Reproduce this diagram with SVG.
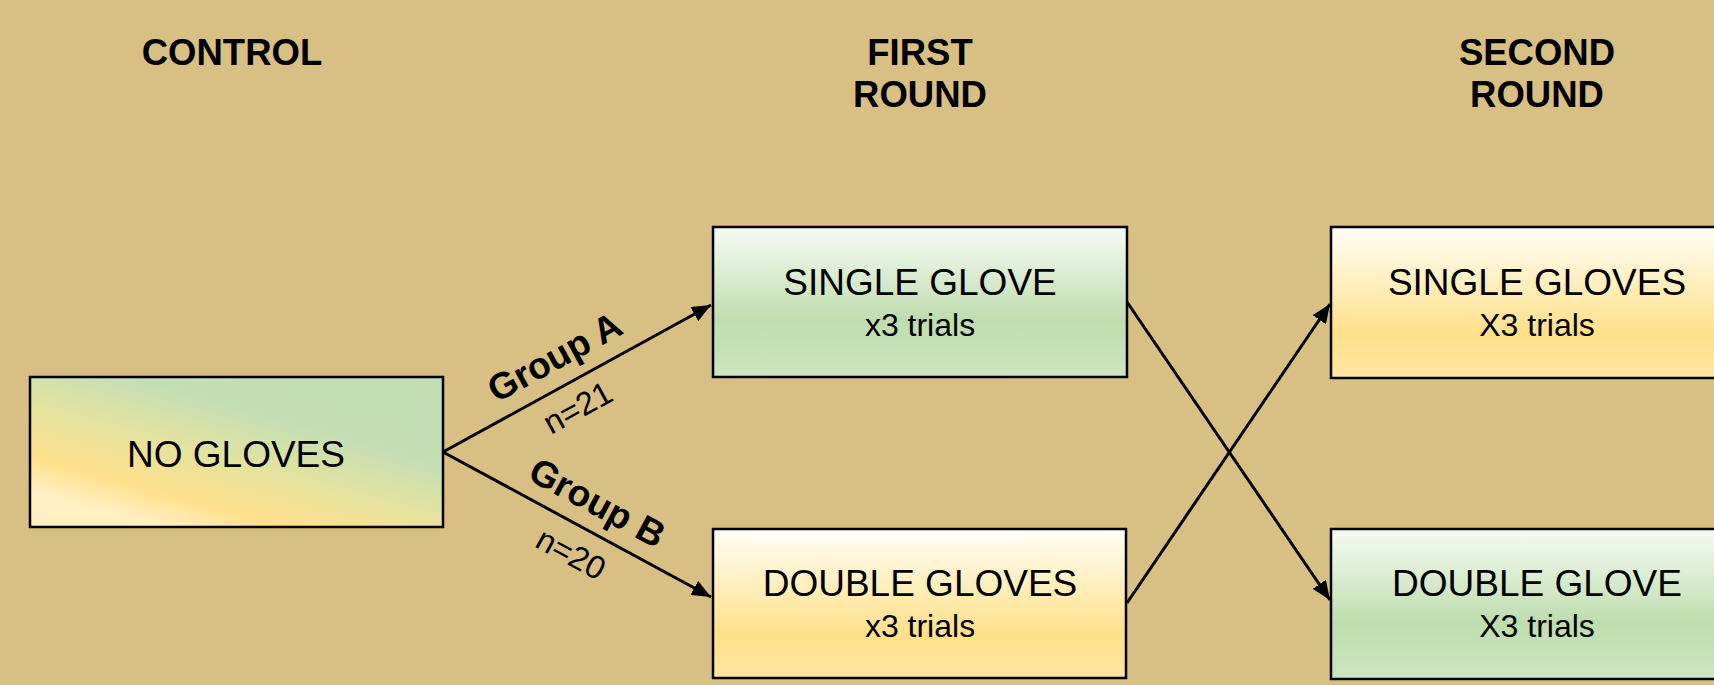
<svg xmlns="http://www.w3.org/2000/svg" width="1714" height="685" viewBox="0 0 1714 685">
<style>
.box{stroke:#000;stroke-width:2.5}
.t{font-family:"Liberation Sans",Arial,sans-serif;fill:#000;text-anchor:middle}
.main{font-size:37px}
.sub{font-size:32px}
.hd{font-size:36.5px;font-weight:bold}
.lbl{font-size:37px;font-weight:bold}
.n{font-size:32.5px}
.con{stroke:#000;stroke-width:3;fill:none;marker-end:url(#ah)}
</style>
<defs>
<linearGradient id="gGreen" x1="0" y1="0" x2="0" y2="1">
<stop offset="0" stop-color="#F5FAF3"/>
<stop offset="0.3" stop-color="#DCEDD3"/>
<stop offset="0.62" stop-color="#BEDDAE"/>
<stop offset="1" stop-color="#CDE6C1"/>
</linearGradient>
<linearGradient id="gYellow" x1="0" y1="0" x2="0" y2="1">
<stop offset="0" stop-color="#FFFDF6"/>
<stop offset="0.35" stop-color="#FFF0C2"/>
<stop offset="0.7" stop-color="#FFE08A"/>
<stop offset="1" stop-color="#FFE6A0"/>
</linearGradient>
<linearGradient id="gMix" gradientUnits="userSpaceOnUse" x1="205" y1="540" x2="250" y2="378">
<stop offset="0" stop-color="#FFF0C4"/>
<stop offset="0.2" stop-color="#FFE08C"/>
<stop offset="0.5" stop-color="#E4E29E"/>
<stop offset="0.8" stop-color="#C5DFB4"/>
<stop offset="1" stop-color="#C2DEB3"/>
</linearGradient>
<marker id="ah" markerUnits="userSpaceOnUse" markerWidth="20" markerHeight="16" refX="19" refY="8" orient="auto">
<path d="M0,0 L19,8 L0,16 z" fill="#000"/>
</marker>
</defs>
<rect width="1714" height="685" fill="#D8C084"/>

<g id="headings">
<text class="t hd" x="232" y="65">CONTROL</text>
<text class="t hd" x="920" y="65">FIRST</text>
<text class="t hd" x="920" y="107">ROUND</text>
<text class="t hd" x="1537" y="65">SECOND</text>
<text class="t hd" x="1537" y="107">ROUND</text>
</g>

<g id="connectors">
<line class="con" x1="443" y1="452" x2="711" y2="305"/>
<line class="con" x1="443" y1="452" x2="711" y2="597"/>
<line class="con" x1="1127" y1="302" x2="1330" y2="600"/>
<line class="con" x1="1127" y1="603" x2="1330" y2="304"/>
<g id="labelA" transform="translate(570.6,382) rotate(-28.75)">
<text class="t lbl" x="-2" y="-17">Group A</text>
<text class="t n" x="-6" y="37">n=21</text>
</g>
<g id="labelB" transform="translate(582,527) rotate(28.4)">
<text class="t lbl" x="2" y="-16">Group B</text>
<text class="t n" x="3" y="40">n=20</text>
</g>
</g>

<g id="node-no-gloves">
<rect class="box" x="30" y="377" width="413" height="150" fill="url(#gMix)"/>
<text class="t main" x="236" y="467">NO GLOVES</text>
</g>

<g id="node-single-glove">
<rect class="box" x="713" y="227" width="414" height="150" fill="url(#gGreen)"/>
<text class="t main" x="920" y="295">SINGLE GLOVE</text>
<text class="t sub" x="920" y="336">x3 trials</text>
</g>

<g id="node-double-gloves">
<rect class="box" x="713" y="529" width="413" height="149" fill="url(#gYellow)"/>
<text class="t main" x="920" y="596">DOUBLE GLOVES</text>
<text class="t sub" x="920" y="637">x3 trials</text>
</g>

<g id="node-single-gloves">
<rect class="box" x="1331" y="227" width="413" height="151" fill="url(#gYellow)"/>
<text class="t main" x="1537" y="295">SINGLE GLOVES</text>
<text class="t sub" x="1537" y="336">X3 trials</text>
</g>

<g id="node-double-glove">
<rect class="box" x="1331" y="529" width="413" height="150" fill="url(#gGreen)"/>
<text class="t main" x="1537" y="596">DOUBLE GLOVE</text>
<text class="t sub" x="1537" y="637">X3 trials</text>
</g>
</svg>
